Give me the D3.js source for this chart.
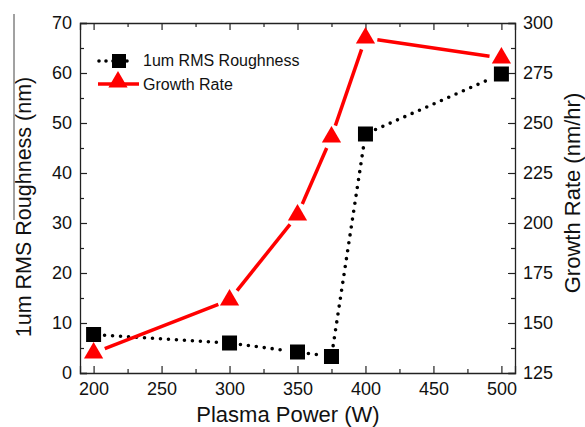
<!DOCTYPE html>
<html>
<head>
<meta charset="utf-8">
<script src="https://cdn.jsdelivr.net/npm/d3@7"></script>
<style>
  body { margin: 0; background: #fff; }
  svg { display: block; }
  text { font-family: "Liberation Sans", Arial, sans-serif; fill: #111; }
</style>
</head>
<body>
<svg id="chart" width="585" height="427"></svg>
<script>
// data
const power     = [200, 300, 350, 375, 400, 500];
const roughness = [7.7, 6.0, 4.2, 3.3, 47.8, 59.8];
const growth    = [135, 161.5, 204, 243, 292.5, 282.5];

const xTicks  = [200, 250, 300, 350, 400, 450, 500];
const yLTicks = [0, 10, 20, 30, 40, 50, 60, 70];
const yRTicks = [125, 150, 175, 200, 225, 250, 275, 300];

const M = { left: 80, right: 515, top: 23, bottom: 373 };

const svg = d3.select("#chart");

const x  = d3.scaleLinear().domain([190, 510]).range([M.left, M.right]);
const yL = d3.scaleLinear().domain([0, 70]).range([M.bottom, M.top]);
const yR = d3.scaleLinear().domain([125, 300]).range([M.bottom, M.top]);

// ── axes (ticks point inward, Origin style) ────────────────────────────
function styleAxis(g) {
  g.select(".domain").attr("stroke", "#222").attr("stroke-width", 1.3);
  g.selectAll(".tick line").attr("stroke", "#222").attr("stroke-width", 1.2);
  g.selectAll(".tick text").attr("font-size", 18).attr("fill", "#111")
    .attr("font-family", "Liberation Sans, Arial, sans-serif");
}
const minor = (arr) => d3.pairs(arr).map(([a, b]) => (a + b) / 2);

// bottom
svg.append("g").attr("transform", `translate(0,${M.bottom})`)
  .call(d3.axisBottom(x).tickValues(xTicks).tickSize(-7).tickPadding(9).tickFormat(d3.format("d")))
  .call(styleAxis);
svg.append("g").attr("transform", `translate(0,${M.bottom})`)
  .call(d3.axisBottom(x).tickValues(minor(xTicks)).tickSize(-4).tickFormat(""))
  .call(styleAxis).select(".domain").remove();
// top
svg.append("g").attr("transform", `translate(0,${M.top})`)
  .call(d3.axisTop(x).tickValues(xTicks).tickSize(-7).tickFormat(""))
  .call(styleAxis);
svg.append("g").attr("transform", `translate(0,${M.top})`)
  .call(d3.axisTop(x).tickValues(minor(xTicks)).tickSize(-4).tickFormat(""))
  .call(styleAxis).select(".domain").remove();
// left
svg.append("g").attr("transform", `translate(${M.left},0)`)
  .call(d3.axisLeft(yL).tickValues(yLTicks).tickSize(-7).tickPadding(8))
  .call(styleAxis);
svg.append("g").attr("transform", `translate(${M.left},0)`)
  .call(d3.axisLeft(yL).tickValues(minor(yLTicks)).tickSize(-4).tickFormat(""))
  .call(styleAxis).select(".domain").remove();
// right
svg.append("g").attr("transform", `translate(${M.right},0)`)
  .call(d3.axisRight(yR).tickValues(yRTicks).tickSize(-7).tickPadding(8))
  .call(styleAxis);
svg.append("g").attr("transform", `translate(${M.right},0)`)
  .call(d3.axisRight(yR).tickValues(minor(yRTicks)).tickSize(-4).tickFormat(""))
  .call(styleAxis).select(".domain").remove();

// ── axis titles ─────────────────────────────────────────────────────────
svg.append("text").attr("x", 288).attr("y", 422)
  .attr("text-anchor", "middle").attr("font-size", 22).text("Plasma Power (W)");
svg.append("text").attr("transform", "translate(31,207) rotate(-90)")
  .attr("text-anchor", "middle").attr("font-size", 21.5).text("1um RMS Roughness (nm)");
svg.append("text").attr("transform", "translate(580,193) rotate(-90)")
  .attr("text-anchor", "middle").attr("font-size", 22).text("Growth Rate (nm/hr)");
// stray line from the scanned original
svg.append("line").attr("x1", 14).attr("x2", 14).attr("y1", 14).attr("y2", 220)
  .attr("stroke", "#444").attr("stroke-width", 1);

// ── series (line gaps around symbols) ──────────────────────────────────
function gapSegments(pts, gap) {
  return d3.pairs(pts).map(([a, b]) => {
    const dx = b[0] - a[0], dy = b[1] - a[1], L = Math.hypot(dx, dy);
    const ux = dx / L, uy = dy / L;
    return [[a[0] + ux * gap, a[1] + uy * gap], [b[0] - ux * gap, b[1] - uy * gap]];
  });
}

const rPts = power.map((p, i) => [x(p), yL(roughness[i])]);
const gPts = power.map((p, i) => [x(p), yR(growth[i])]);

svg.append("g").selectAll("line").data(gapSegments(rPts, 11)).enter().append("line")
  .attr("x1", d => d[0][0]).attr("y1", d => d[0][1])
  .attr("x2", d => d[1][0]).attr("y2", d => d[1][1])
  .attr("stroke", "#000").attr("stroke-width", 3.6)
  .attr("stroke-linecap", "round").attr("stroke-dasharray", "0 8");

svg.append("g").selectAll("line").data(gapSegments(gPts, 12)).enter().append("line")
  .attr("x1", d => d[0][0]).attr("y1", d => d[0][1])
  .attr("x2", d => d[1][0]).attr("y2", d => d[1][1])
  .attr("stroke", "#ff0000").attr("stroke-width", 3.5);

const sq = 15;
svg.append("g").selectAll("rect").data(rPts).enter().append("rect")
  .attr("x", d => d[0] - sq / 2).attr("y", d => d[1] - sq / 2)
  .attr("width", sq).attr("height", sq).attr("fill", "#000");

const tri = d3.symbol().type(d3.symbolTriangle).size(160);
svg.append("g").selectAll("path").data(gPts).enter().append("path")
  .attr("d", tri).attr("transform", d => `translate(${d[0]},${d[1]})`)
  .attr("fill", "#ff0000");

// ── legend ──────────────────────────────────────────────────────────────
const lg = svg.append("g");
lg.append("line").attr("x1", 99).attr("x2", 134).attr("y1", 61).attr("y2", 61)
  .attr("stroke", "#000").attr("stroke-width", 3.6)
  .attr("stroke-linecap", "round").attr("stroke-dasharray", "0 7");
lg.append("rect").attr("x", 112).attr("y", 54).attr("width", 14).attr("height", 14).attr("fill", "#000");
lg.append("text").attr("x", 143).attr("y", 66).attr("font-size", 16).text("1um RMS Roughness");
lg.append("line").attr("x1", 98).attr("x2", 139).attr("y1", 84).attr("y2", 84)
  .attr("stroke", "#ff0000").attr("stroke-width", 3.5);
lg.append("path").attr("d", tri).attr("transform", "translate(118,82)").attr("fill", "#ff0000");
lg.append("text").attr("x", 143).attr("y", 90).attr("font-size", 16).text("Growth Rate");
</script>
</body>
</html>
